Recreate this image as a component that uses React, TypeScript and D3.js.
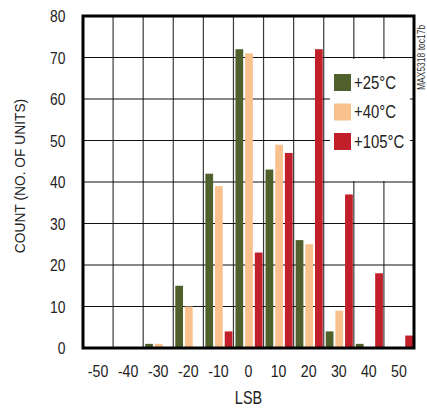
import React from "react";
import * as d3 from "d3";

const categories = ["-50", "-40", "-30", "-20", "-10", "0", "10", "20", "30", "40", "50"];
const seriesNames = ["+25°C", "+40°C", "+105°C"];
const seriesColors = ["#4f602c", "#f9c18e", "#c11f2a"];
const count25 = [0, 0, 1, 15, 42, 72, 43, 26, 4, 1, 0];
const count40 = [0, 0, 1, 10, 39, 71, 49, 25, 9, 0, 0];
const count105 = [0, 0, 0, 0, 4, 23, 47, 72, 37, 18, 3];
const yTicks = [0, 10, 20, 30, 40, 50, 60, 70, 80];

const W = 427, H = 408;
const L = 83, R = 414, T = 16, B = 348;
const FONT = "'Liberation Sans', Arial, sans-serif";

function NText({ x, y, anchor = "start", size, rotate = 0, sx = 0.85, children, fill = "#222" }: any) {
  return (
    <text
      transform={`translate(${x},${y}) rotate(${rotate}) scale(${sx},1)`}
      textAnchor={anchor}
      fontSize={size}
      fill={fill}
    >
      {children}
    </text>
  );
}

export default function App() {
  const series = [count25, count40, count105];
  const x = d3.scaleBand<string>().domain(categories).range([L, R]).paddingInner(0);
  const bw = x.bandwidth();
  const xi = d3.scaleBand<number>().domain([0, 1, 2]).range([2, bw - 1]).paddingInner(0.2);
  const y = d3.scaleLinear().domain([0, 80]).range([B, T]);

  return (
    <svg width={W} height={H} style={{ position: "absolute", left: 0, top: 0, background: "#fff" }} fontFamily={FONT}>
      <rect x={0} y={0} width={W} height={H} fill="#fff" />
      {categories.slice(1).map((c) => (
        <line key={"v" + c} x1={x(c)!} x2={x(c)!} y1={T} y2={B} stroke="#3a3a3a" strokeWidth={1.2} />
      ))}
      {yTicks.slice(1, -1).map((t) => (
        <line key={"h" + t} x1={L} x2={R} y1={y(t)} y2={y(t)} stroke="#111" strokeWidth={1.2} />
      ))}
      <rect x={330} y={59} width={80} height={122} fill="#fff" />
      {series.map((vals, si) =>
        vals.map((v, ci) =>
          v > 0 ? (
            <rect
              key={si + "-" + ci}
              x={x(categories[ci])! + xi(si)!}
              y={y(v)}
              width={xi.bandwidth()}
              height={y(0) - y(v)}
              fill={seriesColors[si]}
            />
          ) : null
        )
      )}
      <rect x={L} y={T} width={R - L} height={B - T} fill="none" stroke="#000" strokeWidth={3} />
      {yTicks.map((t) => (
        <NText key={"yt" + t} x={65.5} y={y(t) + 6} anchor="end" size={16.3}>
          {t}
        </NText>
      ))}
      {categories.map((c) => (
        <NText key={"xt" + c} x={x(c)! + bw / 2} y={377} anchor="middle" size={16.3} sx={0.87}>
          {c}
        </NText>
      ))}
      <NText x={248.5} y={404} anchor="middle" size={19} sx={0.76}>LSB</NText>
      <NText x={25} y={176} rotate={-90} anchor="middle" size={15.5} sx={0.89}>
        COUNT (NO. OF UNITS)
      </NText>
      {seriesNames.map((n, i) => (
        <g key={n} transform={`translate(334,${74 + i * 29.5})`}>
          <rect x={0} y={0} width={17} height={17} fill={seriesColors[i]} />
          <NText x={20} y={14.5} size={18.6} sx={0.8}>{n}</NText>
        </g>
      ))}
      <NText x={425} y={90} rotate={-90} size={10} sx={0.85} fill="#333">
        MAX5318 toc17b
      </NText>
    </svg>
  );
}
